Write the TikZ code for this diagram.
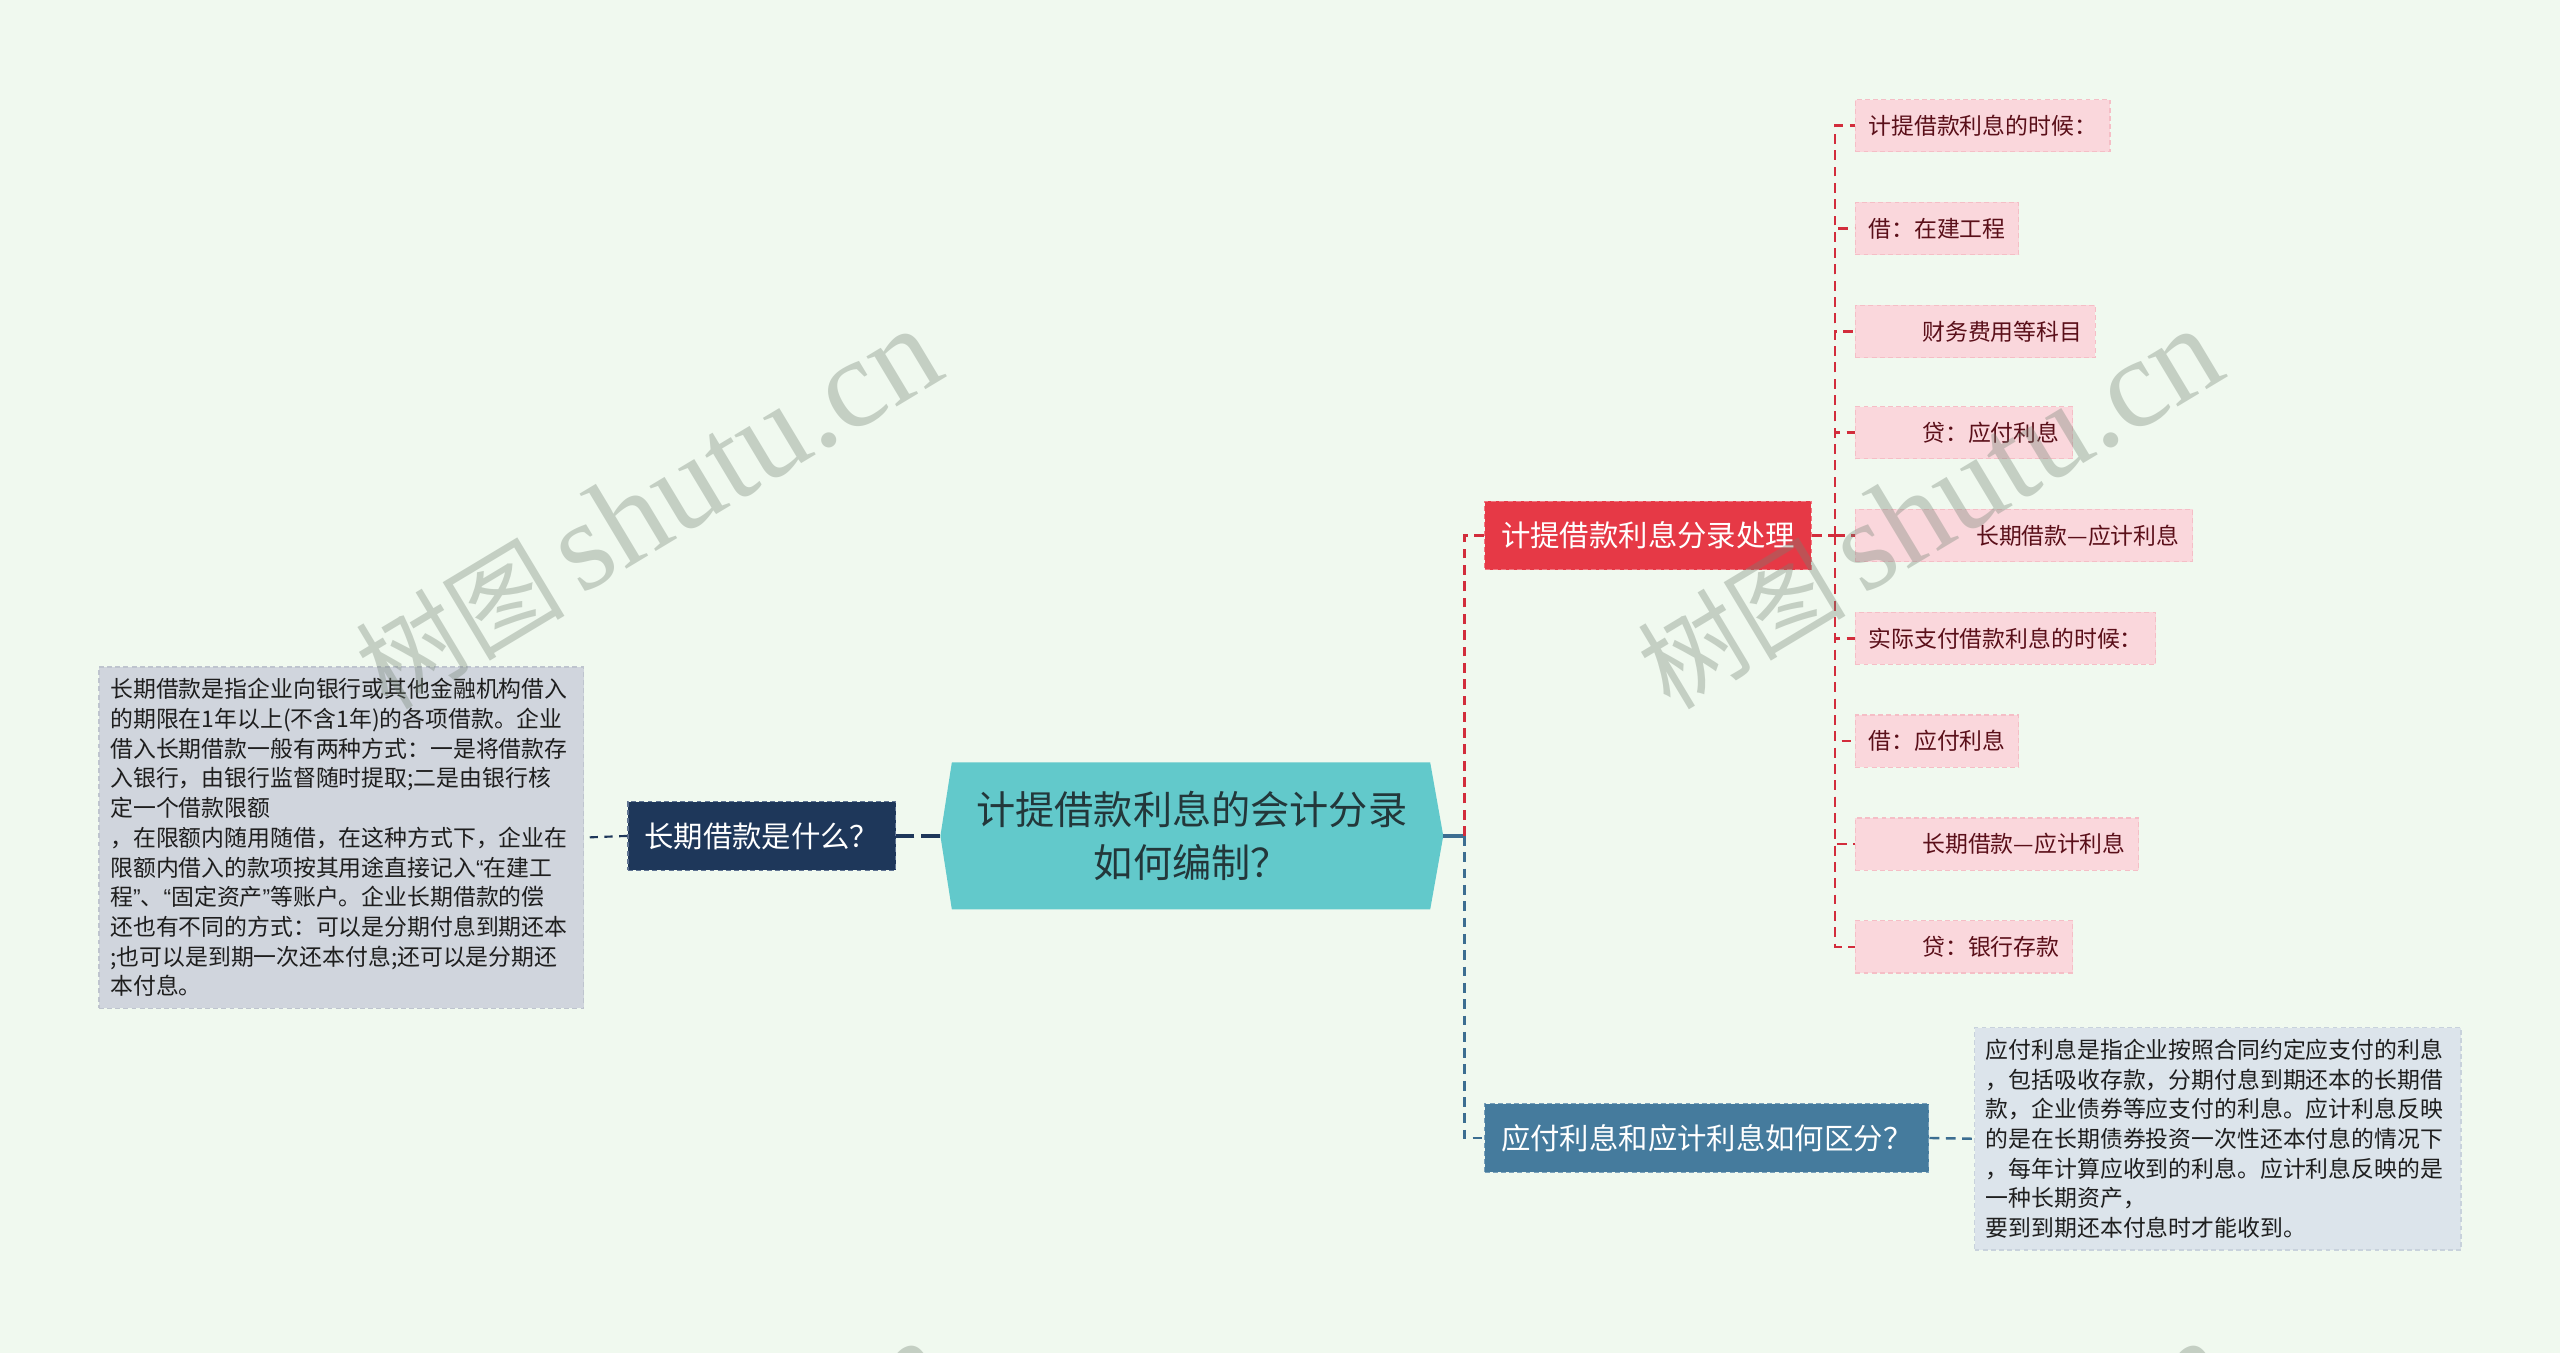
\documentclass[tikz,border=0pt]{standalone}
\usepackage{fontspec}
\setmainfont{Noto Sans CJK SC}
\newfontfamily\wmlatin{Liberation Serif}
\newfontfamily\wmcjk{Noto Sans CJK SC}
\newfontfamily\quotefont{Liberation Sans}
\newcommand{\myoq}{{\quotefont “}}
\newcommand{\mycq}{{\quotefont ”}}
\usetikzlibrary{calc}
\definecolor{bgc}{RGB}{240,249,239}
\definecolor{cfill}{RGB}{98,201,203}
\definecolor{ctext}{RGB}{35,55,58}
\definecolor{darkfill}{RGB}{30,55,90}
\definecolor{darkedge}{RGB}{95,115,145}
\definecolor{redfill}{RGB}{230,57,70}
\definecolor{rededge}{RGB}{240,120,130}
\definecolor{bluefill}{RGB}{69,123,157}
\definecolor{blueedge}{RGB}{120,160,185}
\definecolor{leaffill}{RGB}{250,215,220}
\definecolor{leafedge}{RGB}{245,190,198}
\definecolor{leaftext}{RGB}{90,15,25}
\definecolor{ldfill}{RGB}{208,213,221}
\definecolor{ldedge}{RGB}{190,196,206}
\definecolor{rdfill}{RGB}{220,228,235}
\definecolor{rdedge}{RGB}{200,210,220}
\definecolor{desctext}{RGB}{30,30,30}
\definecolor{redline}{RGB}{210,45,60}
\definecolor{blueline}{RGB}{60,110,145}
\definecolor{darkline}{RGB}{30,55,90}
\definecolor{wmgray}{RGB}{115,130,115}
\tikzset{
  lvlone/.style={font=\fontsize{18}{22}\selectfont, text=white, inner xsep=10pt, inner ysep=0pt,
    minimum height=42pt, line width=0.8pt, dash pattern=on 3pt off 2pt},
  leafbox/.style={font=\fontsize{14}{18}\selectfont, text=leaftext, fill=leaffill, draw=leafedge,
    line width=0.8pt, dash pattern=on 3pt off 2pt, inner xsep=8pt, inner ysep=0pt, minimum height=32pt},
  descbox/.style={font=\fontsize{14}{18.2}\selectfont, text=desctext, align=left, inner xsep=7pt,
    inner ysep=7pt, line width=0.8pt, dash pattern=on 3pt off 2pt},
  redconn/.style={draw=redline, line width=1.5pt, dash pattern=on 6pt off 4pt},
  blueconn/.style={draw=blueline, line width=1.5pt, dash pattern=on 6pt off 4pt},
  darkconn/.style={draw=darkline, line width=1.3pt, dash pattern=on 5pt off 4pt},
  watermark/.style={text=wmgray, opacity=0.35, rotate=31, inner sep=0pt}
}
\begin{document}
\begin{tikzpicture}[x=1pt,y=-1pt]
\useasboundingbox (0,0) rectangle (1568,828.7);
\fill[bgc] (0,0) rectangle (1568,828.7);

% central topic
\fill[cfill] (583,467) -- (876,467) -- (884,512) -- (876,557) -- (583,557) -- (576,512) -- cycle;
\node[font=\fontsize{24}{32}\selectfont, text=ctext, align=center, inner sep=0pt] (c) at (730,512)
  {计提借款利息的会计分录\\如何编制？};
\coordinate (cl) at (576,512);
\coordinate (cr) at (884,512);
\coordinate (rj) at (897,512);

% left branch
\node[lvlone, fill=darkfill, draw=darkedge, anchor=east] (dark) at (549,512) {长期借款是什么？};
\node[descbox, fill=ldfill, draw=ldedge, text width=283pt, anchor=east] (ld) at (358,513)
  {长期借款是指企业向银行或其他金融机构借入\\
的期限在1年以上(不含1年)的各项借款。企业\\
借入长期借款一般有两种方式：一是将借款存\\
入银行，由银行监督随时提取;二是由银行核\\
定一个借款限额\\
，在限额内随用随借，在这种方式下，企业在\\
限额内借入的款项按其用途直接记入\myoq 在建工\\
程\mycq 、\myoq 固定资产\mycq 等账户。企业长期借款的偿\\
还也有不同的方式：可以是分期付息到期还本\\
;也可以是到期一次还本付息;还可以是分期还\\
本付息。};
\draw[draw=darkline, line width=2.2pt, dash pattern=on 12pt off 4pt] (cl) -- (dark.east);
\draw[darkconn] (dark.west) -- (ld.east);

% right branch
\node[lvlone, fill=redfill, draw=rededge, anchor=west] (red) at (909,328) {计提借款利息分录处理};
\node[lvlone, fill=bluefill, draw=blueedge, anchor=west] (blue) at (909,697) {应付利息和应计利息如何区分？};
\draw[draw=blueline, line width=2pt] (cr) -- (rj);
\draw[redconn] (rj) |- (red.west);
\draw[blueconn] (rj) |- (blue.west);

% leaves
\node[leafbox, anchor=west] (l1) at (1136,77) {计提借款利息的时候：};
\node[leafbox, anchor=west] (l2) at (1136,140) {借：在建工程};
\node[leafbox, anchor=west] (l3) at (1136,203) {\hspace*{33pt}财务费用等科目};
\node[leafbox, anchor=west] (l4) at (1136,265) {\hspace*{33pt}贷：应付利息};
\node[leafbox, anchor=west] (l5) at (1136,328) {\hspace*{66pt}长期借款—应计利息};
\node[leafbox, anchor=west] (l6) at (1136,391) {实际支付借款利息的时候：};
\node[leafbox, anchor=west] (l7) at (1136,454) {借：应付利息};
\node[leafbox, anchor=west] (l8) at (1136,517) {\hspace*{33pt}长期借款—应计利息};
\node[leafbox, anchor=west] (l9) at (1136,580) {\hspace*{33pt}贷：银行存款};
\coordinate (lj) at (1124,328);
\draw[redconn] (red.east) -- (lj);
\foreach \n in {l1,l2,l3,l4,l5,l6,l7,l8,l9} { \draw[redconn] (lj) |- (\n.west); }

% right description
\node[descbox, fill=rdfill, draw=rdedge, text width=284pt, anchor=west] (rd) at (1209,697.5)
  {应付利息是指企业按照合同约定应支付的利息\\
，包括吸收存款，分期付息到期还本的长期借\\
款，企业债券等应支付的利息。应计利息反映\\
的是在长期债券投资一次性还本付息的情况下\\
，每年计算应收到的利息。应计利息反映的是\\
一种长期资产，\\
要到到期还本付息时才能收到。};
\draw[blueconn] (blue.east) -- (rd.west);

% watermarks
\begin{scope}
\clip (0,0) rectangle (1568,828.7);
\node[watermark] (w1) at (397,312) {\wmcjk\fontsize{64}{64}\selectfont 树图\hspace{10pt}\wmlatin\fontsize{78}{78}\selectfont shutu.cn};
\node[watermark] (w2) at (1182,312) {\wmcjk\fontsize{64}{64}\selectfont 树图\hspace{10pt}\wmlatin\fontsize{78}{78}\selectfont shutu.cn};
\node[watermark] (w3) at (401,932) {\wmcjk\fontsize{64}{64}\selectfont 树图\hspace{10pt}\wmlatin\fontsize{78}{78}\selectfont shutu.cn};
\node[watermark] (w4) at (1186,932) {\wmcjk\fontsize{64}{64}\selectfont 树图\hspace{10pt}\wmlatin\fontsize{78}{78}\selectfont shutu.cn};
\end{scope}
\end{tikzpicture}
\end{document}
